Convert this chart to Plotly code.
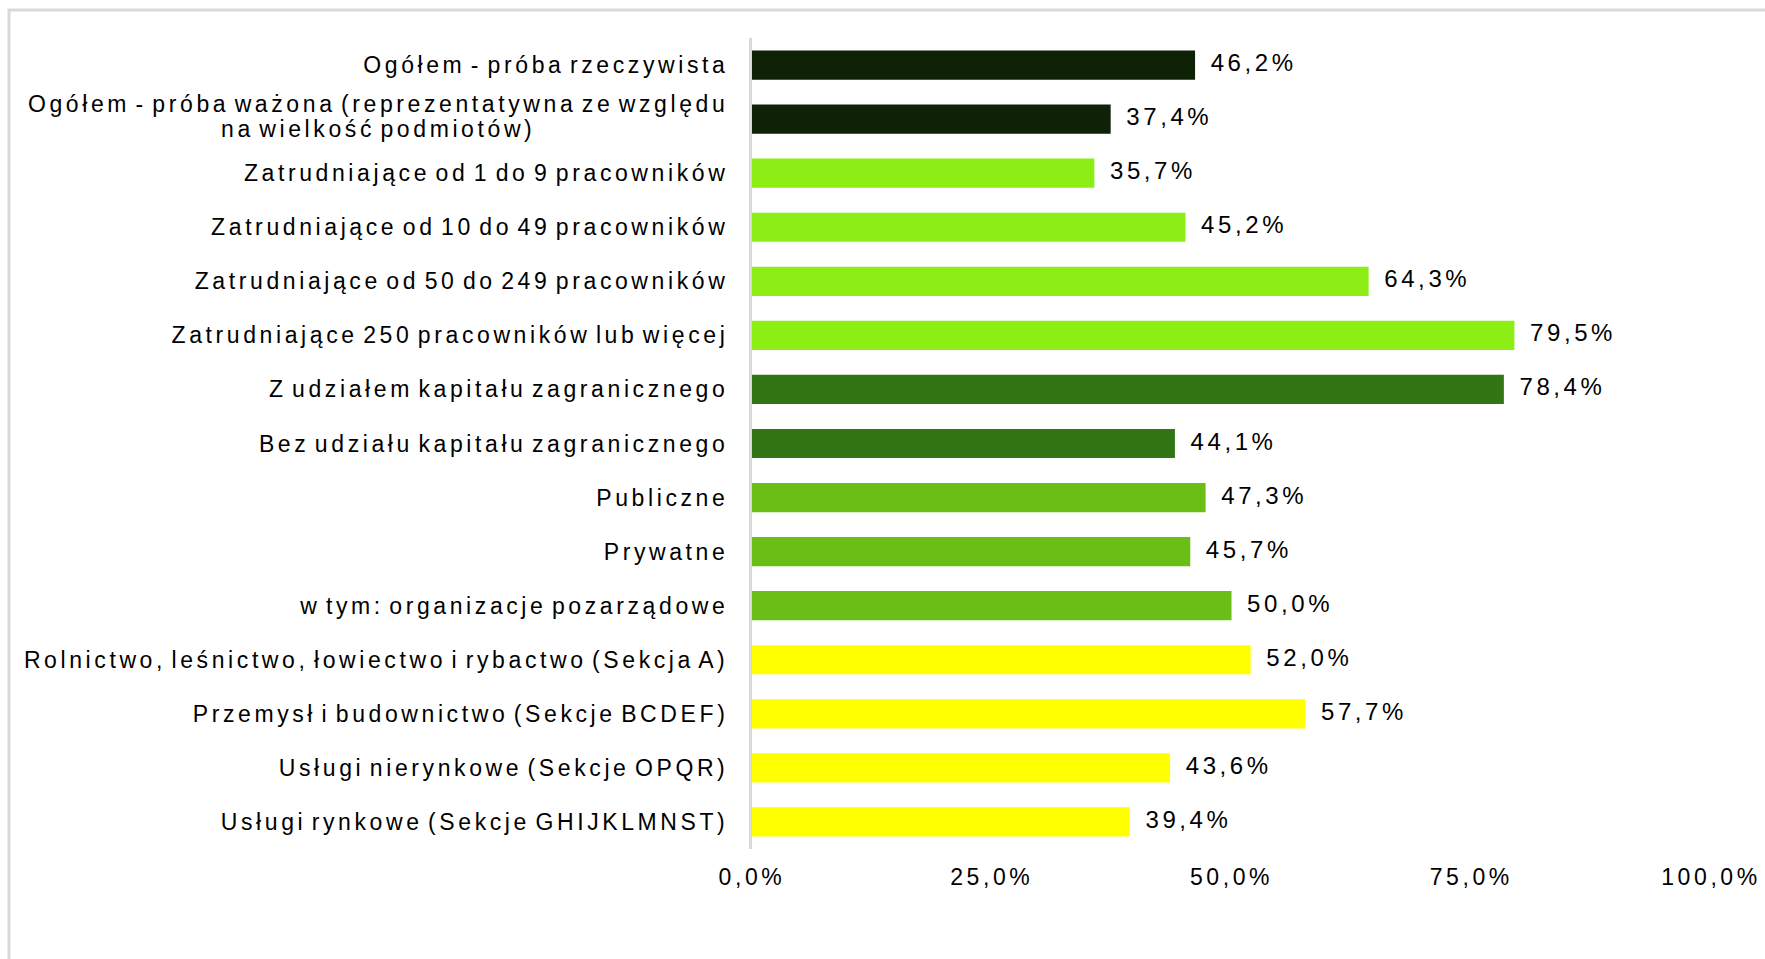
import plotly.graph_objects as go

categories = [
    "Ogółem - próba rzeczywista",
    "Ogółem - próba ważona (reprezentatywna ze względu<br>na wielkość podmiotów)",
    "Zatrudniające od 1 do 9 pracowników",
    "Zatrudniające od 10 do 49 pracowników",
    "Zatrudniające od 50 do 249 pracowników",
    "Zatrudniające 250 pracowników lub więcej",
    "Z udziałem kapitału zagranicznego",
    "Bez udziału kapitału zagranicznego",
    "Publiczne",
    "Prywatne",
    "w tym: organizacje pozarządowe",
    "Rolnictwo, leśnictwo, łowiectwo i rybactwo (Sekcja A)",
    "Przemysł i budownictwo (Sekcje BCDEF)",
    "Usługi nierynkowe (Sekcje OPQR)",
    "Usługi rynkowe (Sekcje GHIJKLMNST)",
]
values = [46.2, 37.4, 35.7, 45.2, 64.3, 79.5, 78.4, 44.1, 47.3, 45.7, 50.0, 52.0, 57.7, 43.6, 39.4]
groups = [
    "ogolem", "ogolem",
    "wielkosc", "wielkosc", "wielkosc", "wielkosc",
    "kapital", "kapital",
    "sektor", "sektor", "sektor",
    "sekcja", "sekcja", "sekcja", "sekcja",
]
x_ticks = [0, 25, 50, 75, 100]

palette = {
    "ogolem": "#0f2206",
    "wielkosc": "#8cee14",
    "kapital": "#317515",
    "sektor": "#6abf16",
    "sekcja": "#ffff00",
}

W, H = 1765, 959
L, R, T, B = 752, 54, 38, 110
FONT = "Arial, Liberation Sans, sans-serif"


def pct(v):
    return f"{v:.1f}".replace(".", ",") + "%"


fig = go.Figure()
fig.add_trace(go.Bar(
    x=values, y=categories, orientation="h",
    marker=dict(color=[palette[g] for g in groups], line=dict(width=0)),
    hoverinfo="skip", showlegend=False,
))
fig.add_trace(go.Scatter(
    x=values, y=categories, mode="text",
    text=["\u2002" + pct(v) for v in values], textposition="middle right",
    textfont=dict(family=FONT, size=24, color="#000000"),
    cliponaxis=False, hoverinfo="skip", showlegend=False,
))

# light grey frame round the picture (top and left edges visible)
pw, ph = W - L - R, H - T - B
fx0 = (9 - L) / pw
fx1 = (W + 10 - L) / pw
fy_top = (H - B - 10) / ph
fy_bot = (H - B - (H + 10)) / ph
fig.add_shape(
    type="path", xref="paper", yref="paper",
    path=f"M {fx0} {fy_bot} L {fx0} {fy_top} L {fx1} {fy_top}",
    line=dict(color="#d9d9d9", width=3),
)

fig.update_layout(
    width=W, height=H,
    margin=dict(l=L, r=R, t=T, b=B, pad=0),
    paper_bgcolor="white", plot_bgcolor="white",
    bargap=0.46,
    font=dict(family=FONT, size=23, color="#000000"),
    xaxis=dict(
        range=[0, 100], tickvals=x_ticks, ticktext=[pct(v) for v in x_ticks],
        showgrid=False, zeroline=False, showline=False, ticks="",
        ticklabelstandoff=12, tickfont=dict(family=FONT, size=23, color="#000000"),
    ),
    yaxis=dict(
        range=[len(categories) - 0.5, -0.5], showgrid=False, zeroline=False,
        showline=True, linecolor="#d9d9d9", linewidth=3, ticks="",
        ticklabelstandoff=16, tickfont=dict(family=FONT, size=23, color="#000000"),
    ),
)

post = """
document.body.style.margin = '0';
var st = document.createElement('style');
st.textContent = '.ytick text{letter-spacing:3.6px; word-spacing:-4.5px} .xtick text{letter-spacing:3.6px} .textpoint text{letter-spacing:3.6px}';
document.head.appendChild(st);
var gd = document.getElementById('{plot_id}');
gd.querySelectorAll('.ytick text').forEach(function(t){
  var lines = t.querySelectorAll('tspan.line');
  if (lines.length < 2) return;
  var w = lines[0].getComputedTextLength();
  var x = parseFloat(lines[0].getAttribute('x') || t.getAttribute('x') || 0);
  for (var i = 1; i < lines.length; i++) {
    lines[i].setAttribute('text-anchor', 'middle');
    lines[i].setAttribute('x', x - w / 2);
    lines[i].setAttribute('dy', '1.08em');
  }
});
"""

fig.write_html("out.html", post_script=post, config={"displayModeBar": False})
